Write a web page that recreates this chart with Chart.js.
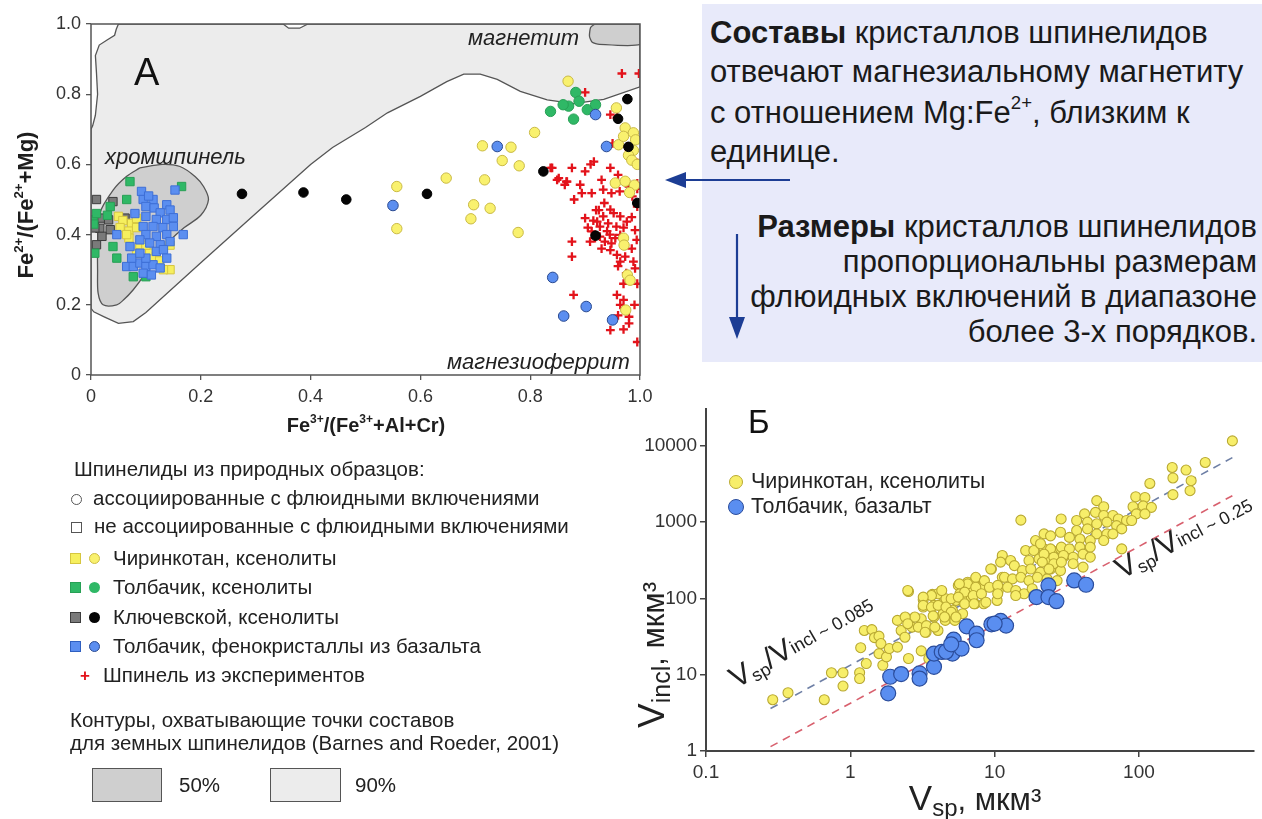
<!DOCTYPE html>
<html lang="ru"><head><meta charset="utf-8"><title>Шпинелиды</title>
<script src="https://cdn.jsdelivr.net/npm/chart.js@4.4.1/dist/chart.umd.min.js"></script>
<style>
html,body{margin:0;padding:0;background:#fff}
body{position:relative;width:1262px;height:819px;overflow:hidden;font-family:"Liberation Sans",Arial,Helvetica,sans-serif;color:#1e1e1e}
.t{position:absolute;white-space:nowrap;line-height:1}
canvas{position:absolute}
#panel{position:absolute;left:702px;top:4px;width:560px;height:358px;background:#e8eafa}
.pt{font-size:31px;color:#1a1a1a}
.lg{font-size:20.5px;color:#222}
.it{font-style:italic;font-size:22px;color:#222}
.sym{position:absolute;box-sizing:border-box}
sup{font-size:60%;vertical-align:0;position:relative;top:-0.75em}
.sub{position:relative}
</style></head><body>
<div id="panel"></div>
<canvas id="chartA" width="660" height="445" style="left:0;top:0;width:660px;height:445px"></canvas>
<canvas id="chartB" width="642" height="424" style="left:620px;top:395px;width:642px;height:424px"></canvas>

<!-- right text panel -->
<div class="t pt" style="left:710px;top:17px"><b>Составы</b> кристаллов шпинелидов</div>
<div class="t pt" style="left:710px;top:56px">отвечают магнезиальному магнетиту</div>
<div class="t pt" style="left:710px;top:97px">с отношением Mg:Fe<sup>2+</sup>, близким к</div>
<div class="t pt" style="left:710px;top:136px">единице.</div>
<div class="t pt" style="right:5px;top:211px"><b>Размеры</b> кристаллов шпинелидов</div>
<div class="t pt" style="right:5px;top:246px">пропорциональны размерам</div>
<div class="t pt" style="right:5px;top:281px">флюидных включений в диапазоне</div>
<div class="t pt" style="right:5px;top:316px">более 3-х порядков.</div>
<svg style="position:absolute;left:0;top:0" width="1262" height="819">
  <line x1="680" y1="180" x2="790" y2="180" stroke="#1c3d94" stroke-width="2.2"/>
  <polygon points="665,180 686,172 686,188" fill="#1c3d94"/>
  <line x1="737" y1="234" x2="737" y2="322" stroke="#1c3d94" stroke-width="2.2"/>
  <polygon points="737,339 729,317 745,317" fill="#1c3d94"/>
</svg>

<!-- chart A annotations -->
<div class="t" style="left:134px;top:53px;font-size:38px;color:#111">А</div>
<div class="t it" style="left:105px;top:146px">хромшпинель</div>
<div class="t it" style="left:468px;top:27px">магнетит</div>
<div class="t it" style="left:447px;top:351px">магнезиоферрит</div>
<div class="t" style="left:26px;top:205px;font-size:22px;font-weight:bold;transform:translate(-50%,-50%) rotate(-90deg)">Fe<sup>2+</sup>/(Fe<sup>2+</sup>+Mg)</div>
<div class="t" style="left:366px;top:425px;font-size:20px;font-weight:bold;transform:translate(-50%,-50%)">Fe<sup>3+</sup>/(Fe<sup>3+</sup>+Al+Cr)</div>

<!-- left legend -->
<div class="t lg" style="left:74px;top:459px">Шпинелиды из природных образцов:</div>
<div class="sym" style="left:71px;top:494px;width:11px;height:11px;border:1.3px solid #555;border-radius:50%"></div>
<div class="t lg" style="left:93px;top:488px">ассоциированные с флюидными включениями</div>
<div class="sym" style="left:71px;top:522px;width:11px;height:11px;border:1.3px solid #555"></div>
<div class="t lg" style="left:94px;top:516px">не ассоциированные с флюидными включениями</div>
<div class="sym" style="left:70px;top:553px;width:11px;height:11px;background:#f6ef5e;border:1px solid #d6c640"></div>
<div class="sym" style="left:89px;top:553px;width:11px;height:11px;background:#f9f16e;border:1px solid #cdbd45;border-radius:50%"></div>
<div class="t lg" style="left:113px;top:548px">Чиринкотан, ксенолиты</div>
<div class="sym" style="left:70px;top:582px;width:11px;height:11px;background:#2fb866;border:1px solid #27a055"></div>
<div class="sym" style="left:89px;top:582px;width:11px;height:11px;background:#2fb866;border-radius:50%"></div>
<div class="t lg" style="left:113px;top:577px">Толбачик, ксенолиты</div>
<div class="sym" style="left:70px;top:612px;width:11px;height:11px;background:#7a7a7a;border:1px solid #3c3c3c"></div>
<div class="sym" style="left:89px;top:612px;width:11px;height:11px;background:#050505;border-radius:50%"></div>
<div class="t lg" style="left:113px;top:607px">Ключевской, ксенолиты</div>
<div class="sym" style="left:70px;top:641px;width:11px;height:11px;background:#5b8ef0;border:1px solid #2f5fc0"></div>
<div class="sym" style="left:89px;top:641px;width:11px;height:11px;background:#5b8ef0;border:1px solid #2a4a90;border-radius:50%"></div>
<div class="t lg" style="left:113px;top:636px">Толбачик, фенокристаллы из базальта</div>
<div class="t" style="left:80px;top:667px;font-size:17px;font-weight:bold;color:#e3131b">+</div>
<div class="t lg" style="left:103px;top:665px">Шпинель из экспериментов</div>
<div class="t lg" style="left:70px;top:710px">Контуры, охватывающие точки составов</div>
<div class="t lg" style="left:70px;top:733px">для земных шпинелидов (Barnes and Roeder, 2001)</div>
<div class="sym" style="left:92px;top:768px;width:70px;height:34px;background:#cfcfcf;border:1.5px solid #555"></div>
<div class="t lg" style="left:179px;top:775px">50%</div>
<div class="sym" style="left:270px;top:768px;width:71px;height:34px;background:#ececec;border:1.5px solid #555"></div>
<div class="t lg" style="left:355px;top:775px">90%</div>

<!-- chart B annotations -->
<div class="t" style="left:748px;top:405px;font-size:33px;color:#111">Б</div>
<div class="sym" style="left:729px;top:475px;width:14px;height:14px;background:#f7ee6a;border:1.2px solid #b9a932;border-radius:50%"></div>
<div class="t" style="left:751px;top:471px;font-size:21.5px;color:#222">Чиринкотан, ксенолиты</div>
<div class="sym" style="left:728px;top:499px;width:16px;height:16px;background:#5a8ef0;border:1.2px solid #2b4d9c;border-radius:50%"></div>
<div class="t" style="left:751px;top:496px;font-size:21.5px;color:#222">Толбачик, базальт</div>
<div class="t" style="left:651px;top:655px;color:#222;transform:translate(-50%,-50%) rotate(-90deg)"><span style="font-size:37px">V</span><span class="sub" style="font-size:25px;top:6px">incl</span><span style="font-size:31px">, мкм³</span></div>
<div class="t" style="left:975px;top:797px;color:#222;transform:translate(-50%,-50%)"><span style="font-size:35px">V</span><span class="sub" style="font-size:24px;top:6px">sp</span><span style="font-size:31px">, мкм³</span></div>
<div class="t" style="left:739px;top:663px;height:30px;line-height:30px;color:#222;transform-origin:0 100%;transform:rotate(-30deg)"><span style="font-size:30px">V</span><span class="sub" style="font-size:18px;top:4px">sp</span><span style="font-size:30px">/V</span><span class="sub" style="font-size:18px;top:-1px">incl</span><span style="font-size:18px"> ~ 0.085</span></div>
<div class="t" style="left:1124px;top:554px;height:30px;line-height:30px;color:#222;transform-origin:0 100%;transform:rotate(-28deg)"><span style="font-size:30px">V</span><span class="sub" style="font-size:18px;top:4px">sp</span><span style="font-size:30px">/V</span><span class="sub" style="font-size:18px;top:-1px">incl</span><span style="font-size:18px"> ~ 0.25</span></div>

<script>
// ---------- Chart A data: Fe3+/(Fe3++Al+Cr) vs Fe2+/(Fe2++Mg) ----------
const xTicksA = [0, 0.2, 0.4, 0.6, 0.8, 1.0];
const xTickLabelsA = ['0', '0.2', '0.4', '0.6', '0.8', '1.0'];
const yTicksA = [0, 0.2, 0.4, 0.6, 0.8, 1.0];
const yTickLabelsA = ['0', '0.2', '0.4', '0.6', '0.8', '1.0'];

// 90% contour (Barnes & Roeder, 2001)
const contour90 = [[0.05,1.0],[0.046,0.985],[0.043,0.968],[0.03,0.955],[0.015,0.94],[0.008,0.91],[0.01,0.86],[0.012,0.8],[0.008,0.74],[0.003,0.71],[0,0.7],[0,0.19],[0.005,0.18],[0.025,0.165],[0.05,0.147],[0.077,0.152],[0.1,0.178],[0.2,0.32],[0.3,0.46],[0.4,0.6],[0.44,0.648],[0.5,0.705],[0.54,0.747],[0.6,0.794],[0.648,0.836],[0.679,0.857],[0.709,0.857],[0.74,0.842],[0.782,0.808],[0.831,0.784],[0.879,0.773],[0.934,0.785],[1.0,0.821],[1.0,1.0],[0.395,1.0],[0.38,0.988],[0.36,0.988],[0.35,1.0],[0.05,1.0]];
// 50% contours
const contour50Chrom = [[0.089,0.59],[0.13,0.6],[0.162,0.594],[0.19,0.565],[0.205,0.537],[0.214,0.5],[0.2,0.455],[0.17,0.42],[0.145,0.385],[0.12,0.34],[0.095,0.28],[0.077,0.243],[0.06,0.215],[0.047,0.2],[0.022,0.2],[0.013,0.233],[0.012,0.3],[0.012,0.347],[0.016,0.46],[0.041,0.528],[0.065,0.566],[0.089,0.59]];
const contour50Magn = [[0.918,1.0],[0.91,0.99],[0.908,0.965],[0.913,0.948],[0.926,0.942],[1.0,0.942],[1.0,1.0],[0.918,1.0]];

// squares: not associated with fluid inclusions
const chirSquares = [[0.05,0.452],[0.058,0.44],[0.074,0.432],[0.083,0.446],[0.053,0.42],[0.069,0.41],[0.083,0.42],[0.069,0.39],[0.089,0.37],[0.083,0.347],[0.107,0.347],[0.119,0.338],[0.144,0.37],[0.144,0.3],[0.132,0.3],[0.1,0.37],[0.065,0.4],[0.11,0.33],[0.125,0.325]];
const tolbSquares = [[0.071,0.551],[0.165,0.537],[0.004,0.442],[0.005,0.43],[0.007,0.347],[0.047,0.333],[0.04,0.366],[0.035,0.48],[0.077,0.28],[0.01,0.46],[0.03,0.455],[0.065,0.5],[0.1,0.28]];
const kluchSquares = [[0.01,0.5],[0.04,0.494],[0.02,0.447],[0.032,0.442],[0.016,0.418],[0.035,0.414],[0.02,0.395],[0.01,0.371],[0.062,0.447],[0.007,0.419]];
const basaltSquares = [[0.092,0.523],[0.095,0.5],[0.113,0.5],[0.1,0.48],[0.115,0.476],[0.138,0.485],[0.144,0.47],[0.126,0.462],[0.1,0.452],[0.119,0.443],[0.138,0.443],[0.15,0.448],[0.095,0.423],[0.113,0.423],[0.131,0.42],[0.15,0.423],[0.168,0.4],[0.047,0.4],[0.153,0.527],[0.1,0.4],[0.119,0.395],[0.138,0.4],[0.089,0.385],[0.071,0.366],[0.107,0.376],[0.126,0.371],[0.144,0.38],[0.119,0.352],[0.132,0.357],[0.065,0.309],[0.077,0.309],[0.089,0.319],[0.1,0.309],[0.113,0.314],[0.126,0.305],[0.095,0.29],[0.11,0.285],[0.074,0.333],[0.1,0.333],[0.138,0.333],[0.089,0.347],[0.08,0.46],[0.105,0.51]];

// circles: associated with fluid inclusions
const chirCircles = [[0.869,0.837],[0.957,0.761],[0.973,0.704],[0.988,0.69],[0.992,0.67],[0.961,0.656],[0.988,0.64],[0.979,0.626],[0.985,0.612],[0.955,0.547],[0.973,0.552],[0.99,0.541],[0.981,0.52],[0.97,0.39],[0.971,0.37],[0.977,0.285],[0.982,0.27],[0.974,0.185],[0.808,0.691],[0.713,0.653],[0.765,0.649],[0.749,0.611],[0.78,0.596],[0.647,0.561],[0.717,0.556],[0.557,0.537],[0.697,0.485],[0.727,0.475],[0.692,0.445],[0.557,0.417],[0.778,0.406],[0.97,0.68],[0.995,0.6]];
const tolbCircles = [[0.837,0.751],[0.87,0.766],[0.883,0.805],[0.889,0.78],[0.879,0.729],[0.904,0.756],[0.919,0.77],[0.86,0.77]];
const kluchCircles = [[0.275,0.516],[0.387,0.52],[0.465,0.5],[0.612,0.516],[0.824,0.58],[0.977,0.786],[0.96,0.73],[0.979,0.65],[0.995,0.49],[0.919,0.397]];
const basaltCircles = [[0.55,0.483],[0.74,0.651],[0.919,0.742],[0.939,0.651],[0.841,0.278],[0.861,0.168],[0.902,0.195],[0.95,0.157]];

// experimental spinel
const experiments = [[0.967,0.859],[0.998,0.859],[0.9,0.805],[0.946,0.742],[0.958,0.733],[0.977,0.651],[0.98,0.642],[0.995,0.604],[0.84,0.59],[0.876,0.59],[0.91,0.6],[0.916,0.608],[0.946,0.59],[0.852,0.561],[0.866,0.551],[0.863,0.542],[0.891,0.542],[0.894,0.518],[0.912,0.518],[0.93,0.556],[0.933,0.528],[0.948,0.518],[0.963,0.523],[0.98,0.537],[0.995,0.546],[0.986,0.509],[0.995,0.48],[0.9,0.447],[0.922,0.437],[0.933,0.452],[0.946,0.471],[0.952,0.461],[0.964,0.452],[0.976,0.437],[0.927,0.423],[0.942,0.432],[0.957,0.423],[0.912,0.409],[0.909,0.38],[0.927,0.394],[0.936,0.38],[0.948,0.375],[0.964,0.399],[0.991,0.413],[0.994,0.385],[0.946,0.356],[0.958,0.342],[0.964,0.323],[0.973,0.337],[0.988,0.323],[0.991,0.304],[0.876,0.38],[0.876,0.337],[0.879,0.228],[0.958,0.228],[0.97,0.214],[0.964,0.2],[0.98,0.166],[0.98,0.147],[0.946,0.128],[0.995,0.094],[0.837,0.59],[0.849,0.556],[0.867,0.551],[0.92,0.47],[0.935,0.49],[0.905,0.42],[0.94,0.41],[0.918,0.39],[0.955,0.39],[0.97,0.42],[0.985,0.45],[0.93,0.36],[0.96,0.31],[0.985,0.36],[0.995,0.26],[0.97,0.26],[0.96,0.17],[0.995,0.53],[0.925,0.47],[0.88,0.5],[0.9,0.58],[0.96,0.57],[0.95,0.66],[0.975,0.29],[0.99,0.2],[0.97,0.13],[0.915,0.44],[0.945,0.4]];

// ---------- Chart B data: Vsp vs Vincl (мкм³) ----------
const xTicksB = [0.1, 1, 10, 100];
const yTicksB = [1, 10, 100, 1000, 10000];
const chirVolumes = [[0.29,4.7],[0.37,5.8],[0.66,4.7],[0.74,10.6],[0.89,10.6],[0.89,7.1],[1.16,10.6],[1.16,8.9],[1.18,22.6],[1.29,14],[1.25,38],[1.41,39],[1.47,30.6],[1.58,32],[1.63,25.6],[1.58,18.9],[1.68,13.3],[1.78,17.1],[1.86,22],[2.12,23],[2.53,16.3],[2.12,51.5],[2.25,38],[2.39,31],[2.53,123],[2.68,42],[3.1,54],[3.2,96],[3.2,77],[3.1,20.5],[3.5,16.3],[3.35,36],[3.7,113],[3.8,81],[4.05,115],[3.8,57],[4.05,38],[4.34,85],[4.4,63],[4.55,51.5],[4.6,99],[5.1,70],[5.3,51.5],[5.4,94],[5.6,148],[5.75,115],[6.1,94],[6.0,63],[6.5,163],[6.6,127],[6.9,104],[7.3,85],[7.3,171],[7.9,140],[8.4,85],[9.5,243],[10.4,94],[10.6,127],[11.3,347],[11.3,189],[15.2,1060],
[28.9,1100],[28.6,736],[22,700],[19.2,573],[16.4,424],[18.7,424],[22,446],[25,424],[28.6,446],[11.3,365],[12.9,314],[11,299],[17.3,314],[20.3,330],[23.8,330],[27.1,314],[30,347],[9.4,243],[13.7,269],[15.6,232],[17.8,243],[20.8,221],[24.4,243],[28.6,232],[11.7,189],[13.3,180],[15.2,189],[17.3,171],[19.8,189],[23.1,180],[27.1,171],[7.4,189],[8.5,171],[6.5,155],[5.7,155],[7.4,140],[9.2,140],[10.5,148],[12.3,140],[14,127],[16,115],[18.2,134],[6.2,121],[7.1,109],[8.1,115],[10.5,115],[14,109],[5.0,99],[5.6,104],[6.2,85],[7.2,85],[8.7,89],[4.3,127],[3.65,109],[3.2,104],[3.2,81],[3.65,77],[4.06,81],[4.6,77],[5.0,66],[4.5,57],[3.75,59],[5.4,57],[2.8,57],[2.4,57],[2.5,46.6],[2.96,42],[3.37,44],[3.85,42],[3.3,36],[2.5,127],
[444,11600],[288,6050],[170,5200],[212,4810],[172,3790],[230,3490],[226,2580],[172,2290],[119,3210],[95,2150],[110,2100],[91,1590],[107,1630],[122,1560],[96,1280],[110,1280],[51,1910],[57,1590],[42,1280],[50,1340],[57,1220],[66,1220],[72,1100],[82,1050],[89,1050],[37,1050],[44,1000],[51,950],[60,1000],[70,900],[76,815],[37,775],[44,815],[51,700],[60,700],[66,700],[33,630],[39,600],[46,573],[57,573],[24.4,660],[20.8,520],[24.4,446],[29,470],[33,446],[39,470],[46,470],[22,380],[25.7,347],[30,365],[35,347],[41,380],[46,347],[76,446],[21.4,299],[25.7,285],[29,299],[35,285],[41,257],[23.8,243]];
const tolbVolumes = [[1.83,5.7],[1.89,9.4],[2.25,10.2],[3.02,10.4],[3.02,8.9],[3.8,12.7],[3.8,18.9],[4.3,19.9],[4.8,20.9],[5.1,18.9],[5.2,28.8],[5.9,22],[6.4,43],[7.5,34.5],[7.5,28.3],[9.5,45.7],[11,50.6],[12,44],[19.5,104],[23.6,148],[23.6,104],[26.8,92],[35.6,172],[43,151],[10,46.7],[4.6,20],[5.0,25]];
// reference ratio lines Vsp/Vincl (end points)
const ratio085Line = [[0.28,3.6],[444,7000]];
const ratio025Line = [[0.28,1.14],[444,2220]];

// ---------- build ----------
const xy = a => a.map(p => ({x: p[0], y: p[1]}));
const FONT = '"Liberation Sans", Arial, sans-serif';

const frameA = {
  id: 'frameA',
  afterDatasetsDraw(chart) {
    const {ctx, chartArea: {left, top, right, bottom}} = chart;
    ctx.save();
    ctx.strokeStyle = '#555';
    ctx.lineWidth = 1.5;
    ctx.strokeRect(left, top, right - left, bottom - top);
    ctx.restore();
  }
};

const contourDs = (data, fillColor, order, tension) => ({
  type: 'line', data: xy(data), fill: 'shape', backgroundColor: fillColor,
  borderColor: '#555', borderWidth: 1.3, pointRadius: 0, tension: tension, order: order
});
const sq = (data, fill, border, order) => ({
  data: xy(data), pointStyle: 'rect', pointRadius: 5.9, backgroundColor: fill,
  borderColor: border, borderWidth: 1, order: order
});
const circ = (data, fill, border, r, order) => ({
  data: xy(data), pointStyle: 'circle', pointRadius: r, backgroundColor: fill,
  borderColor: border, borderWidth: 1, order: order
});

new Chart(document.getElementById('chartA'), {
  type: 'scatter',
  data: {
    datasets: [
      circ(basaltCircles, '#5b8ef0', '#2a4a90', 5.3, 1),
      circ(kluchCircles, '#050505', '#000', 4.8, 1),
      circ(tolbCircles, '#2fb866', '#27a055', 5.2, 2),
      circ(chirCircles, '#f9f16e', '#c9b945', 5.2, 2),
      {data: xy(experiments), pointStyle: 'cross', pointRadius: 4.4, borderColor: '#e3131b', borderWidth: 2.3, backgroundColor: '#e3131b', order: 3},
      sq(basaltSquares, '#5b8ef0', '#3e6fd6', 4),
      sq(chirSquares, '#f6ef5e', '#d6c640', 5),
      sq(tolbSquares, '#2fb866', '#27a055', 6),
      sq(kluchSquares, '#7a7a7a', '#3c3c3c', 6),
      contourDs(contour50Magn, '#cfcfcf', 9, 0.2),
      contourDs(contour50Chrom, '#cfcfcf', 9, 0.3),
      contourDs(contour90, '#ececec', 10, 0)
    ]
  },
  options: {
    responsive: false, animation: false, events: [],
    layout: {padding: {top: 24, right: 20, left: 0, bottom: 0}},
    plugins: {legend: {display: false}, tooltip: {enabled: false}},
    scales: {
      x: {
        type: 'linear', min: 0, max: 1,
        afterBuildTicks: a => { a.ticks = xTicksA.map(v => ({value: v})); },
        afterFit: a => { a.height = 70; },
        ticks: {autoSkip: false, maxRotation: 0, padding: 6, color: '#333', font: {family: FONT, size: 18}, callback: (v, i) => xTickLabelsA[i]},
        grid: {drawOnChartArea: false, drawTicks: true, tickLength: 5, color: '#555', lineWidth: 1.3},
        border: {display: false}
      },
      y: {
        type: 'linear', min: 0, max: 1,
        afterBuildTicks: a => { a.ticks = yTicksA.map(v => ({value: v})); },
        afterFit: a => { a.width = 91; },
        ticks: {autoSkip: false, padding: 5, color: '#333', font: {family: FONT, size: 18}, callback: (v, i) => yTickLabelsA[i]},
        grid: {drawOnChartArea: false, drawTicks: true, tickLength: 5, color: '#555', lineWidth: 1.3},
        border: {display: false}
      }
    }
  },
  plugins: [frameA]
});

new Chart(document.getElementById('chartB'), {
  type: 'scatter',
  data: {
    datasets: [
      {data: xy(tolbVolumes), pointStyle: 'circle', pointRadius: 7.5, backgroundColor: '#5a8ef0', borderColor: '#2b4d9c', borderWidth: 1.2, order: 1},
      {data: xy(chirVolumes), pointStyle: 'circle', pointRadius: 5, backgroundColor: '#f7ee6a', borderColor: '#b9a932', borderWidth: 1.1, order: 2},
      {type: 'line', data: xy(ratio085Line), borderColor: '#6f80a6', borderWidth: 1.6, borderDash: [8, 6], pointRadius: 0, fill: false, order: 3},
      {type: 'line', data: xy(ratio025Line), borderColor: '#d8606e', borderWidth: 1.6, borderDash: [8, 6], pointRadius: 0, fill: false, order: 3}
    ]
  },
  options: {
    responsive: false, animation: false, events: [],
    layout: {padding: {top: 13, right: 4, left: 0, bottom: 0}},
    plugins: {legend: {display: false}, tooltip: {enabled: false}},
    scales: {
      x: {
        type: 'logarithmic', min: 0.1, max: 620,
        afterBuildTicks: a => { a.ticks = xTicksB.map(v => ({value: v})); },
        afterFit: a => { a.height = 68; },
        ticks: {autoSkip: false, maxRotation: 0, padding: 4, color: '#333', font: {family: FONT, size: 19}, callback: v => String(v)},
        grid: {drawOnChartArea: false, drawTicks: true, tickLength: 6, color: '#444', lineWidth: 1.5},
        border: {display: true, color: '#444', width: 2}
      },
      y: {
        type: 'logarithmic', min: 1, max: 30000,
        afterBuildTicks: a => { a.ticks = yTicksB.map(v => ({value: v})); },
        afterFit: a => { a.width = 86; },
        ticks: {autoSkip: false, padding: 3, color: '#333', font: {family: FONT, size: 19}, callback: v => String(v)},
        grid: {drawOnChartArea: false, drawTicks: true, tickLength: 6, color: '#444', lineWidth: 1.5},
        border: {display: true, color: '#444', width: 2}
      }
    }
  }
});
</script>
</body></html>
